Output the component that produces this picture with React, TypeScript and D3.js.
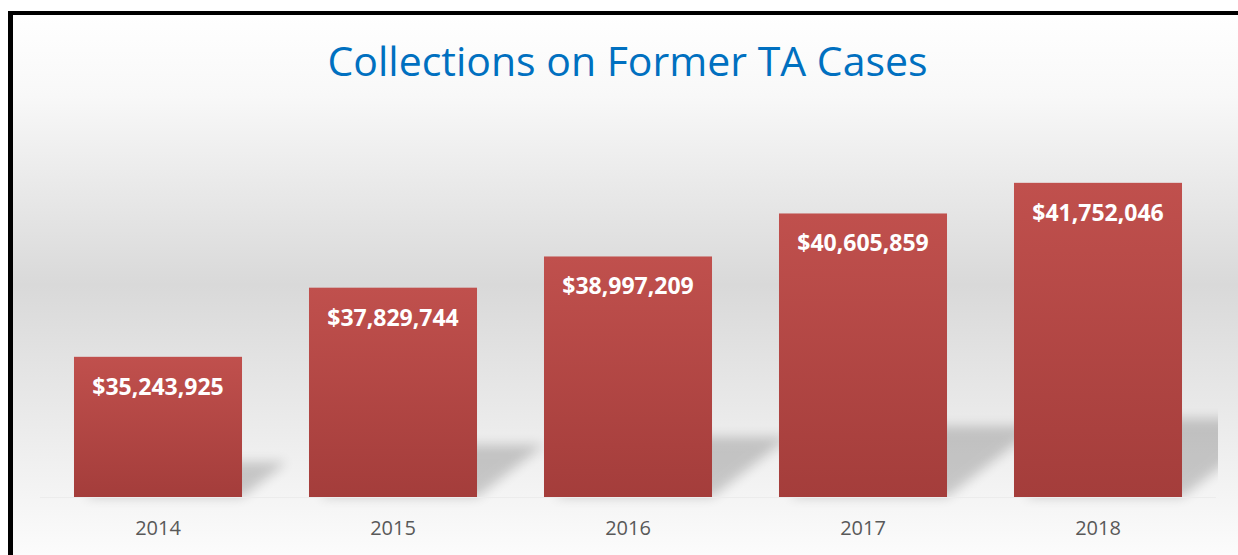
import React from "react";
import * as d3 from "d3";

const title = "Collections on Former TA Cases";
const years = ["2014", "2015", "2016", "2017", "2018"];
const collections = [35243925, 37829744, 38997209, 40605859, 41752046];
const yDomain = [30000000, 45000000];

const W = 1238;
const H = 555;

export default function App() {
  const x = d3.scaleBand<string>().domain(years).range([40.5, 1215.5]).paddingInner(0.285).paddingOuter(0.1425);
  const baseY = 497;
  const y = d3.scaleLinear().domain(yDomain).range([baseY, 96]);
  const fmt = (v: number) => "$" + d3.format(",")(v);
  const bw = x.bandwidth();

  return (
    <svg width={W} height={H} style={{ position: "absolute", left: 0, top: 0 }}>
      <defs>
        <linearGradient id="bg" x1="0" y1="0" x2="0" y2="1">
          <stop offset="0" stopColor="#ffffff" />
          <stop offset="0.15" stopColor="#f8f8f8" />
          <stop offset="0.5" stopColor="#d9d9d9" />
          <stop offset="0.8" stopColor="#eeeeee" />
          <stop offset="1" stopColor="#fcfcfc" />
        </linearGradient>
        <linearGradient id="bar" x1="0" y1="0" x2="0" y2="1">
          <stop offset="0" stopColor="#c0504d" />
          <stop offset="1" stopColor="#a43d3b" />
        </linearGradient>
        <filter id="blur" x="-20%" y="-50%" width="140%" height="200%">
          <feGaussianBlur stdDeviation="6" />
        </filter>
        <clipPath id="plotclip">
          <rect x={13} y={15} width={1218 - 13} height={H} />
        </clipPath>
      </defs>
      <rect x={13} y={15} width={W - 13} height={H - 15} fill="url(#bg)" />
      <rect x={8} y={11} width={5} height={H - 11} fill="#000" />
      <rect x={8} y={11} width={W - 8} height={4} fill="#000" />

      <text
        x={627.5}
        y={76}
        textAnchor="middle"
        fontFamily="'Open Sans', sans-serif"
        fontSize={41}
        fill="#0070c0"
      >
        {title}
      </text>

      <g clipPath="url(#plotclip)">
        {years.map((yr, i) => {
          const x0 = x(yr)!;
          const h = baseY - y(collections[i]);
          const sh = h * 0.25;
          const dx = h * 0.32;
          const pts = [
            [x0 + 10, baseY],
            [x0 + bw, baseY],
            [x0 + bw + dx, baseY - sh],
            [x0 + 10 + dx, baseY - sh],
          ];
          return (
            <polygon
              key={"s" + yr}
              points={pts.map((p) => p.join(",")).join(" ")}
              fill="#000"
              opacity={0.18}
              filter="url(#blur)"
            />
          );
        })}
      </g>
      <line x1={40} x2={1216} y1={baseY + 0.5} y2={baseY + 0.5} stroke="#ececec" strokeWidth={1} />

      {years.map((yr, i) => {
        const x0 = x(yr)!;
        const top = y(collections[i]);
        return (
          <g key={yr}>
            <rect x={x0} y={top} width={bw} height={baseY - top} fill="url(#bar)" />
            <text
              x={x0 + bw / 2}
              y={top + 38}
              textAnchor="middle"
              fontFamily="'Open Sans', sans-serif"
              fontWeight="bold"
              fontSize={23}
              fill="#ffffff"
            >
              {fmt(collections[i])}
            </text>
            <text
              x={x0 + bw / 2}
              y={535}
              textAnchor="middle"
              fontFamily="'Open Sans', sans-serif"
              fontSize={20}
              fill="#595959"
            >
              {yr}
            </text>
          </g>
        );
      })}
    </svg>
  );
}
